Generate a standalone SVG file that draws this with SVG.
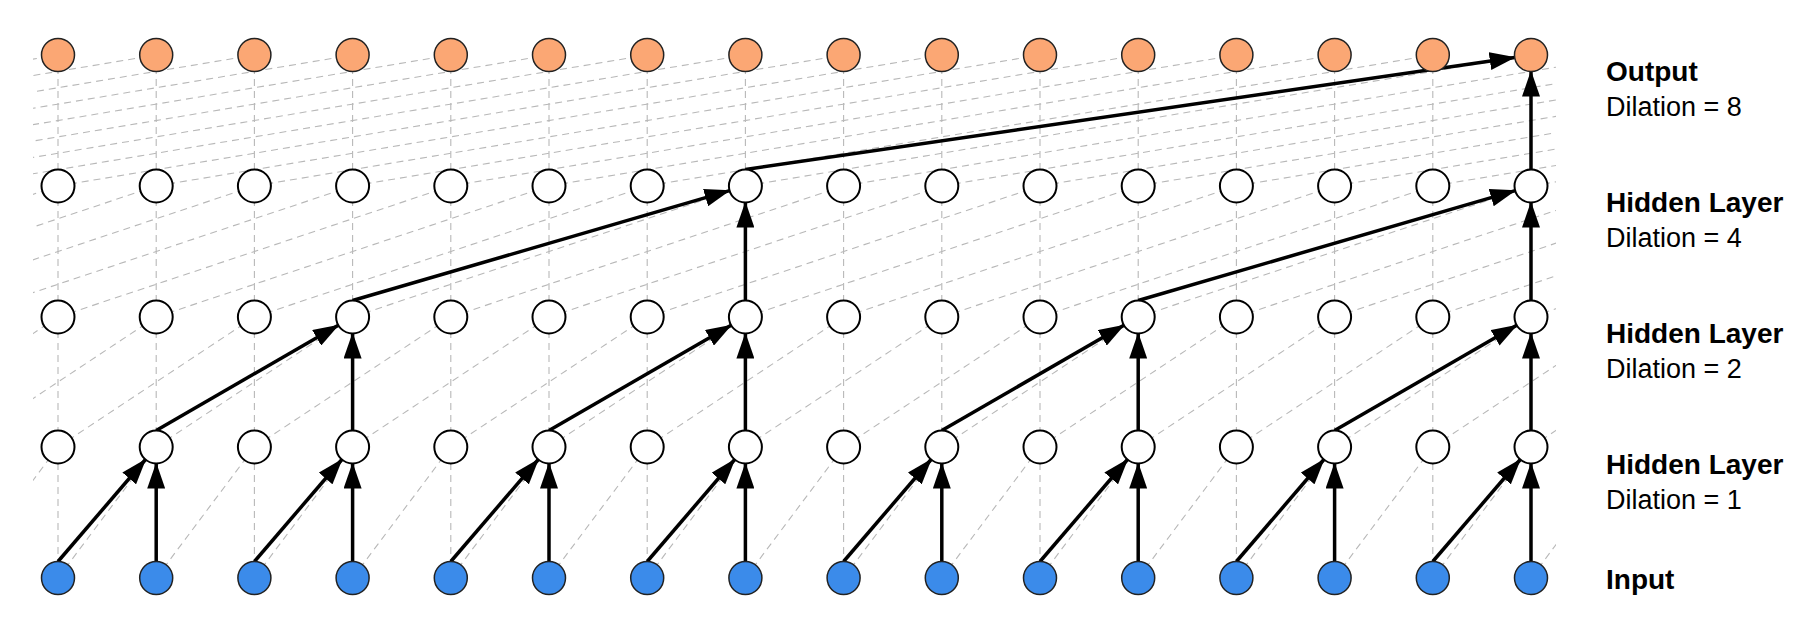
<svg xmlns="http://www.w3.org/2000/svg" xmlns:xlink="http://www.w3.org/1999/xlink" width="1818" height="632" viewBox="0 0 1818 632">
<style>
.g{fill:none;stroke:#b8b8b8;stroke-width:1.1;stroke-dasharray:7 5}
.a{stroke:#000;stroke-width:3.5;marker-end:url(#ah)}
.o{fill:#FBA774;stroke:#222;stroke-width:1.5}
.h{fill:#fff;stroke:#000;stroke-width:2}
.i{fill:#3B8BEA;stroke:#222;stroke-width:1.5}
.t{font-family:"Liberation Sans",Arial,sans-serif;font-size:27px;fill:#000}
.b{font-weight:bold;font-size:28px}
</style>
<defs>
<marker id="ah" markerUnits="userSpaceOnUse" markerWidth="26" markerHeight="18" refX="25" refY="9" orient="auto"><path d="M0,0 L26,9 L0,18 Z" fill="#000"/></marker>
<clipPath id="c"><rect x="33" y="40" width="1523" height="560"/></clipPath>
</defs>
<rect width="1818" height="632" fill="#fff"/>
<g id="connectors">
<g clip-path="url(#c)">
<path class="g" d="M58 55V578M156.2 55V578M254.4 55V578M352.6 55V578M450.8 55V578M549 55V578M647.2 55V578M745.4 55V578M843.6 55V578M941.8 55V578M1040 55V578M1138.2 55V578M1236.4 55V578M1334.6 55V578M1432.8 55V578M1531 55V578"/>
<path class="g" d="M-40.2 578l98.2 -131M58 578l98.2 -131M156.2 578l98.2 -131M254.4 578l98.2 -131M352.6 578l98.2 -131M450.8 578l98.2 -131M549 578l98.2 -131M647.2 578l98.2 -131M745.4 578l98.2 -131M843.6 578l98.2 -131M941.8 578l98.2 -131M1040 578l98.2 -131M1138.2 578l98.2 -131M1236.4 578l98.2 -131M1334.6 578l98.2 -131M1432.8 578l98.2 -131M1531 578l98.2 -131"/>
<path class="g" d="M-138.4 447l196.4 -130M-40.2 447l196.4 -130M58 447l196.4 -130M156.2 447l196.4 -130M254.4 447l196.4 -130M352.6 447l196.4 -130M450.8 447l196.4 -130M549 447l196.4 -130M647.2 447l196.4 -130M745.4 447l196.4 -130M843.6 447l196.4 -130M941.8 447l196.4 -130M1040 447l196.4 -130M1138.2 447l196.4 -130M1236.4 447l196.4 -130M1334.6 447l196.4 -130M1432.8 447l196.4 -130M1531 447l196.4 -130"/>
<path class="g" d="M-334.8 317l392.8 -131M-236.6 317l392.8 -131M-138.4 317l392.8 -131M-40.2 317l392.8 -131M58 317l392.8 -131M156.2 317l392.8 -131M254.4 317l392.8 -131M352.6 317l392.8 -131M450.8 317l392.8 -131M549 317l392.8 -131M647.2 317l392.8 -131M745.4 317l392.8 -131M843.6 317l392.8 -131M941.8 317l392.8 -131M1040 317l392.8 -131M1138.2 317l392.8 -131M1236.4 317l392.8 -131M1334.6 317l392.8 -131M1432.8 317l392.8 -131M1531 317l392.8 -131"/>
<path class="g" d="M-727.6 186l785.6 -131M-629.4 186l785.6 -131M-531.2 186l785.6 -131M-433 186l785.6 -131M-334.8 186l785.6 -131M-236.6 186l785.6 -131M-138.4 186l785.6 -131M-40.2 186l785.6 -131M58 186l785.6 -131M156.2 186l785.6 -131M254.4 186l785.6 -131M352.6 186l785.6 -131M450.8 186l785.6 -131M549 186l785.6 -131M647.2 186l785.6 -131M745.4 186l785.6 -131M843.6 186l785.6 -131M941.8 186l785.6 -131M1040 186l785.6 -131M1138.2 186l785.6 -131M1236.4 186l785.6 -131M1334.6 186l785.6 -131M1432.8 186l785.6 -131M1531 186l785.6 -131"/>
</g>
<line class="a" x1="58" y1="561.5" x2="145.5" y2="459.5"/>
<line class="a" x1="254.4" y1="561.5" x2="341.9" y2="459.5"/>
<line class="a" x1="450.8" y1="561.5" x2="538.3" y2="459.5"/>
<line class="a" x1="647.2" y1="561.5" x2="734.7" y2="459.5"/>
<line class="a" x1="843.6" y1="561.5" x2="931.1" y2="459.5"/>
<line class="a" x1="1040" y1="561.5" x2="1127.5" y2="459.5"/>
<line class="a" x1="1236.4" y1="561.5" x2="1323.9" y2="459.5"/>
<line class="a" x1="1432.8" y1="561.5" x2="1520.3" y2="459.5"/>
<line class="a" x1="156.2" y1="561.5" x2="156.2" y2="463.5"/>
<line class="a" x1="352.6" y1="561.5" x2="352.6" y2="463.5"/>
<line class="a" x1="549" y1="561.5" x2="549" y2="463.5"/>
<line class="a" x1="745.4" y1="561.5" x2="745.4" y2="463.5"/>
<line class="a" x1="941.8" y1="561.5" x2="941.8" y2="463.5"/>
<line class="a" x1="1138.2" y1="561.5" x2="1138.2" y2="463.5"/>
<line class="a" x1="1334.6" y1="561.5" x2="1334.6" y2="463.5"/>
<line class="a" x1="1531" y1="561.5" x2="1531" y2="463.5"/>
<line class="a" x1="156.2" y1="430.5" x2="338.3" y2="325.3"/>
<line class="a" x1="549" y1="430.5" x2="731.1" y2="325.3"/>
<line class="a" x1="941.8" y1="430.5" x2="1123.9" y2="325.3"/>
<line class="a" x1="1334.6" y1="430.5" x2="1516.7" y2="325.3"/>
<line class="a" x1="352.6" y1="430.5" x2="352.6" y2="333.5"/>
<line class="a" x1="745.4" y1="430.5" x2="745.4" y2="333.5"/>
<line class="a" x1="1138.2" y1="430.5" x2="1138.2" y2="333.5"/>
<line class="a" x1="1531" y1="430.5" x2="1531" y2="333.5"/>
<line class="a" x1="352.6" y1="300.5" x2="729.6" y2="190.6"/>
<line class="a" x1="1138.2" y1="300.5" x2="1515.2" y2="190.6"/>
<line class="a" x1="745.4" y1="300.5" x2="745.4" y2="202.5"/>
<line class="a" x1="1531" y1="300.5" x2="1531" y2="202.5"/>
<line class="a" x1="745.4" y1="169.5" x2="1514.7" y2="57.4"/>
<line class="a" x1="1531" y1="169.5" x2="1531" y2="71.5"/>
</g>
<g id="output">
<circle class="o" cx="58" cy="55" r="16.5"/><circle class="o" cx="156.2" cy="55" r="16.5"/><circle class="o" cx="254.4" cy="55" r="16.5"/><circle class="o" cx="352.6" cy="55" r="16.5"/><circle class="o" cx="450.8" cy="55" r="16.5"/><circle class="o" cx="549" cy="55" r="16.5"/><circle class="o" cx="647.2" cy="55" r="16.5"/><circle class="o" cx="745.4" cy="55" r="16.5"/><circle class="o" cx="843.6" cy="55" r="16.5"/><circle class="o" cx="941.8" cy="55" r="16.5"/><circle class="o" cx="1040" cy="55" r="16.5"/><circle class="o" cx="1138.2" cy="55" r="16.5"/><circle class="o" cx="1236.4" cy="55" r="16.5"/><circle class="o" cx="1334.6" cy="55" r="16.5"/><circle class="o" cx="1432.8" cy="55" r="16.5"/><circle class="o" cx="1531" cy="55" r="16.5"/>
</g>
<g id="hidden3">
<circle class="h" cx="58" cy="186" r="16.5"/><circle class="h" cx="156.2" cy="186" r="16.5"/><circle class="h" cx="254.4" cy="186" r="16.5"/><circle class="h" cx="352.6" cy="186" r="16.5"/><circle class="h" cx="450.8" cy="186" r="16.5"/><circle class="h" cx="549" cy="186" r="16.5"/><circle class="h" cx="647.2" cy="186" r="16.5"/><circle class="h" cx="745.4" cy="186" r="16.5"/><circle class="h" cx="843.6" cy="186" r="16.5"/><circle class="h" cx="941.8" cy="186" r="16.5"/><circle class="h" cx="1040" cy="186" r="16.5"/><circle class="h" cx="1138.2" cy="186" r="16.5"/><circle class="h" cx="1236.4" cy="186" r="16.5"/><circle class="h" cx="1334.6" cy="186" r="16.5"/><circle class="h" cx="1432.8" cy="186" r="16.5"/><circle class="h" cx="1531" cy="186" r="16.5"/>
</g>
<g id="hidden2">
<circle class="h" cx="58" cy="317" r="16.5"/><circle class="h" cx="156.2" cy="317" r="16.5"/><circle class="h" cx="254.4" cy="317" r="16.5"/><circle class="h" cx="352.6" cy="317" r="16.5"/><circle class="h" cx="450.8" cy="317" r="16.5"/><circle class="h" cx="549" cy="317" r="16.5"/><circle class="h" cx="647.2" cy="317" r="16.5"/><circle class="h" cx="745.4" cy="317" r="16.5"/><circle class="h" cx="843.6" cy="317" r="16.5"/><circle class="h" cx="941.8" cy="317" r="16.5"/><circle class="h" cx="1040" cy="317" r="16.5"/><circle class="h" cx="1138.2" cy="317" r="16.5"/><circle class="h" cx="1236.4" cy="317" r="16.5"/><circle class="h" cx="1334.6" cy="317" r="16.5"/><circle class="h" cx="1432.8" cy="317" r="16.5"/><circle class="h" cx="1531" cy="317" r="16.5"/>
</g>
<g id="hidden1">
<circle class="h" cx="58" cy="447" r="16.5"/><circle class="h" cx="156.2" cy="447" r="16.5"/><circle class="h" cx="254.4" cy="447" r="16.5"/><circle class="h" cx="352.6" cy="447" r="16.5"/><circle class="h" cx="450.8" cy="447" r="16.5"/><circle class="h" cx="549" cy="447" r="16.5"/><circle class="h" cx="647.2" cy="447" r="16.5"/><circle class="h" cx="745.4" cy="447" r="16.5"/><circle class="h" cx="843.6" cy="447" r="16.5"/><circle class="h" cx="941.8" cy="447" r="16.5"/><circle class="h" cx="1040" cy="447" r="16.5"/><circle class="h" cx="1138.2" cy="447" r="16.5"/><circle class="h" cx="1236.4" cy="447" r="16.5"/><circle class="h" cx="1334.6" cy="447" r="16.5"/><circle class="h" cx="1432.8" cy="447" r="16.5"/><circle class="h" cx="1531" cy="447" r="16.5"/>
</g>
<g id="input">
<circle class="i" cx="58" cy="578" r="16.5"/><circle class="i" cx="156.2" cy="578" r="16.5"/><circle class="i" cx="254.4" cy="578" r="16.5"/><circle class="i" cx="352.6" cy="578" r="16.5"/><circle class="i" cx="450.8" cy="578" r="16.5"/><circle class="i" cx="549" cy="578" r="16.5"/><circle class="i" cx="647.2" cy="578" r="16.5"/><circle class="i" cx="745.4" cy="578" r="16.5"/><circle class="i" cx="843.6" cy="578" r="16.5"/><circle class="i" cx="941.8" cy="578" r="16.5"/><circle class="i" cx="1040" cy="578" r="16.5"/><circle class="i" cx="1138.2" cy="578" r="16.5"/><circle class="i" cx="1236.4" cy="578" r="16.5"/><circle class="i" cx="1334.6" cy="578" r="16.5"/><circle class="i" cx="1432.8" cy="578" r="16.5"/><circle class="i" cx="1531" cy="578" r="16.5"/>
</g>
<g id="labels">
<text class="t b" x="1606" y="81">Output</text>
<text class="t" x="1606" y="116">Dilation = 8</text>
<text class="t b" x="1606" y="212">Hidden Layer</text>
<text class="t" x="1606" y="247">Dilation = 4</text>
<text class="t b" x="1606" y="343">Hidden Layer</text>
<text class="t" x="1606" y="378">Dilation = 2</text>
<text class="t b" x="1606" y="474">Hidden Layer</text>
<text class="t" x="1606" y="509">Dilation = 1</text>
<text class="t b" x="1606" y="589">Input</text>
</g>
</svg>
